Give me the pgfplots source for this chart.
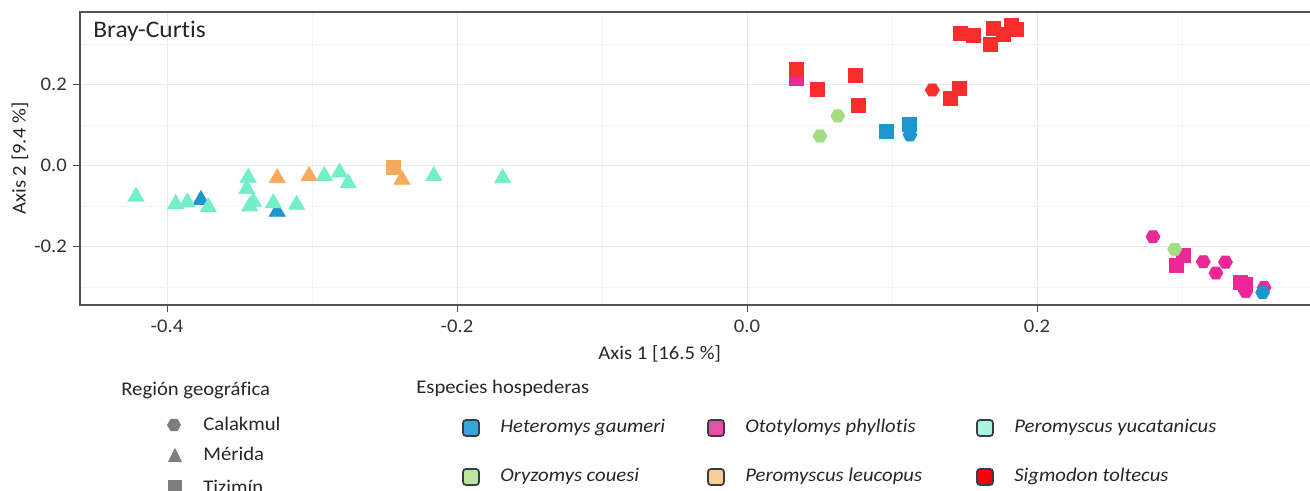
\documentclass[border=0pt]{standalone}
\usepackage{pgfplots}
\pgfplotsset{compat=1.18}
\usepackage{fontspec}
\setmainfont{Carlito}[Ligatures=NoCommon, FakeStretch=1.07]
\definecolor{hetC}{RGB}{30,150,205}
\definecolor{oryC}{RGB}{165,220,130}
\definecolor{otoC}{RGB}{236,40,150}
\definecolor{leuC}{RGB}{246,170,90}
\definecolor{yucC}{RGB}{115,238,200}
\definecolor{sigC}{RGB}{250,45,45}
\definecolor{hetL}{RGB}{55,165,215}
\definecolor{oryL}{RGB}{190,230,160}
\definecolor{otoL}{RGB}{232,80,165}
\definecolor{leuL}{RGB}{248,205,150}
\definecolor{yucL}{RGB}{170,245,225}
\definecolor{sigL}{RGB}{245,0,10}
\definecolor{keyO}{RGB}{55,60,70}
\definecolor{shapeG}{RGB}{125,125,125}
\pgfdeclareplotmark{hexa}{%
  \pgfpathmoveto{\pgfqpointpolar{0}{\pgfplotmarksize}}%
  \pgfpathlineto{\pgfqpointpolar{60}{\pgfplotmarksize}}%
  \pgfpathlineto{\pgfqpointpolar{120}{\pgfplotmarksize}}%
  \pgfpathlineto{\pgfqpointpolar{180}{\pgfplotmarksize}}%
  \pgfpathlineto{\pgfqpointpolar{240}{\pgfplotmarksize}}%
  \pgfpathlineto{\pgfqpointpolar{300}{\pgfplotmarksize}}%
  \pgfpathclose\pgfusepathqfillstroke}
\pgfplotsset{
  tri/.style={only marks, mark=triangle*, mark size=1.85mm, color=#1},
  sq/.style={only marks, mark=square*, mark size=1.4mm, color=#1},
  hx/.style={only marks, mark=hexa, mark size=1.4mm, color=#1},
}
\newcommand{\lf}{\fontsize{11}{13}\selectfont}
\begin{document}
\begin{tikzpicture}
\path[use as bounding box] (0,0) rectangle (262mm,98.2mm);
\begin{axis}[
  at={(16mm,37.2mm)}, anchor=south west,
  scale only axis, width=248mm, height=58.6mm,
  xmin=-0.46, xmax=0.3952, ymin=-0.345, ymax=0.380,
  xtick={-0.4,-0.2,0,0.2}, ytick={-0.2,0,0.2},
  minor xtick={-0.3,-0.1,0.1,0.3}, minor ytick={-0.3,-0.1,0.1,0.3},
  grid=both,
  major grid style={draw=gray!17, line width=0.3pt},
  minor grid style={draw=gray!9, line width=0.3pt},
  tick align=outside, tick pos=left,
  major tick length=1.4mm, minor tick length=0pt,
  tick style={draw=gray!60!black, line width=0.5pt},
  axis line style={draw=gray!65!black, line width=0.45mm},
  /pgf/number format/assume math mode=true,
  /pgf/number format/fixed, /pgf/number format/fixed zerofill,
  /pgf/number format/precision=1,
  ticklabel style={font=\lf, text=black!80},
  xticklabel style={yshift=-0.3mm},
  label style={font=\lf, text=black!85},
  xlabel={Axis 1 [16.5 \%]}, ylabel={Axis 2 [9.4 \%]},
  xlabel style={at={(ticklabel cs:0.4675)}, anchor=north, yshift=-0.2mm},
  ylabel shift=-1.2mm,
  clip=false,
]
% Heteromys triangles (underneath)
\addplot[tri=hetC] coordinates {
(-0.3766,-0.085) (-0.324,-0.114)};
% Peromyscus yucatanicus triangles
\addplot[tri=yucC] coordinates {
(-0.4214,-0.0767) (-0.394,-0.095) (-0.386,-0.091) (-0.3715,-0.103)
(-0.344,-0.030) (-0.345,-0.058) (-0.3405,-0.089) (-0.343,-0.101)
(-0.3267,-0.093) (-0.3106,-0.097) (-0.2915,-0.0255) (-0.281,-0.017)
(-0.275,-0.0436) (-0.216,-0.0255) (-0.1685,-0.031)};
% Peromyscus leucopus
\addplot[sq=leuC] coordinates {
(-0.244,-0.004)};
\addplot[tri=leuC] coordinates {
(-0.324,-0.031) (-0.302,-0.0255) (-0.238,-0.035)};
% Ototylomys squares
\addplot[sq=otoC] coordinates {
(0.0343,0.216) (0.301,-0.221) (0.296,-0.246) (0.340,-0.290) (0.3434,-0.295)};
% Sigmodon squares
\addplot[sq=sigC] coordinates {
(0.0343,0.237) (0.0488,0.189) (0.075,0.222) (0.0768,0.150)
(0.1469,0.328) (0.156,0.321) (0.1676,0.299) (0.170,0.340)
(0.1768,0.3235) (0.1825,0.348) (0.186,0.336)
(0.140,0.167) (0.1462,0.190)};
% Sigmodon hexagon
\addplot[hx=sigC] coordinates {
(0.1278,0.187)};
% Oryzomys hexagons
\addplot[hx=oryC] coordinates {
(0.0626,0.123) (0.0503,0.073) (0.295,-0.207)};
% Ototylomys hexagons
\addplot[hx=otoC] coordinates {
(0.280,-0.176) (0.3147,-0.238) (0.3234,-0.266) (0.330,-0.239) (0.344,-0.312) (0.3566,-0.302)};
% Heteromys squares and hexagons
\addplot[sq=hetC] coordinates {
(0.0963,0.084) (0.112,0.101)};
\addplot[hx=hetC] coordinates {
(0.1124,0.076) (0.3556,-0.314)};
\end{axis}
\begin{scope}[x=0.2mm, y=-0.2mm, yshift=98.2mm]
\node[anchor=base west, inner sep=0pt, font=\fontsize{13.5}{15}\selectfont, text=black!85] at (93,38) {Bray-Curtis};
% Region legend
\node[anchor=base west, inner sep=0pt, font=\lf, text=black!85] at (121,396) {Región geográfica};
\fill[shapeG] (174,425) +(0:7) -- +(60:7) -- +(120:7) -- +(180:7) -- +(240:7) -- +(300:7) -- cycle;
\fill[shapeG] (175,448) -- (182,462) -- (168,462) -- cycle;
\fill[shapeG] (168,480) rectangle (182,494);
\node[anchor=base west, inner sep=0pt, font=\lf, text=black!85] at (203,430.5) {Calakmul};
\node[anchor=base west, inner sep=0pt, font=\lf, text=black!85] at (203,460.5) {Mérida};
\node[anchor=base west, inner sep=0pt, font=\lf, text=black!85] at (203,494) {Tizimín};
% Species legend
\node[anchor=base west, inner sep=0pt, font=\lf, text=black!85] at (416,394) {Especies hospederas};
\foreach \cx/\cy/\col/\lab in {471/428/hetL/Heteromys gaumeri, 471/477/oryL/Oryzomys couesi,
  716/428/otoL/Ototylomys phyllotis, 716/477/leuL/Peromyscus leucopus,
  985/428/yucL/Peromyscus yucatanicus, 985/477/sigL/Sigmodon toltecus}{
  \filldraw[fill=\col, draw=keyO, line width=0.35mm, rounded corners=0.6mm] (\cx-8,\cy-8) rectangle (\cx+8,\cy+8);
  \node[anchor=base west, inner sep=0pt, font=\lf\itshape, text=black!85] at (\cx+29,\cy+5) {\lab};
}
\end{scope}
\end{tikzpicture}
\end{document}
